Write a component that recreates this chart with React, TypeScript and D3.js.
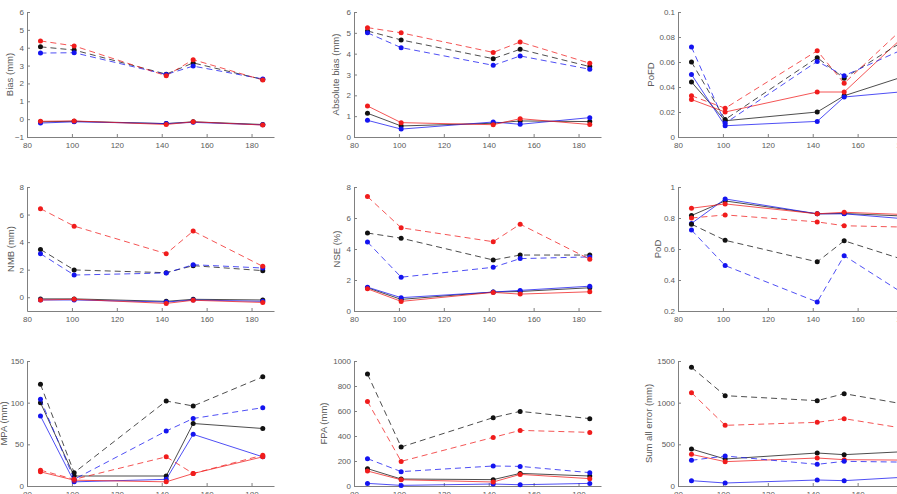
import React, { useEffect, useRef } from 'react';
import * as d3 from 'd3';

// shared x positions (all nine panels)
const xValues = [86, 101, 142, 154, 185];
const xTicks = [80, 100, 120, 140, 160, 180];
const xDomain = [80, 190];

// series order in every panel: solid black, solid blue, solid red, dashed black, dashed blue, dashed red
const bias = [
  [-0.15, -0.12, -0.25, -0.15, -0.3],
  [-0.22, -0.15, -0.25, -0.18, -0.32],
  [-0.12, -0.1, -0.3, -0.15, -0.33],
  [4.05, 3.87, 2.52, 3.15, 2.22],
  [3.7, 3.72, 2.5, 2.97, 2.25],
  [4.38, 4.1, 2.43, 3.33, 2.19],
];
const absBias = [
  [1.14, 0.53, 0.66, 0.77, 0.74],
  [0.8, 0.38, 0.72, 0.61, 0.93],
  [1.49, 0.69, 0.59, 0.88, 0.6],
  [5.09, 4.66, 3.76, 4.21, 3.38],
  [5.0, 4.29, 3.44, 3.89, 3.25],
  [5.25, 5.0, 4.06, 4.56, 3.54],
];
const pofd = [
  [0.044, 0.013, 0.02, 0.033, 0.051],
  [0.05, 0.009, 0.0125, 0.032, 0.037],
  [0.03, 0.02, 0.036, 0.036, 0.088],
  [0.06, 0.014, 0.0635, 0.047, 0.082],
  [0.072, 0.011, 0.0605, 0.049, 0.074],
  [0.033, 0.023, 0.069, 0.043, 0.095],
];
const nmb = [
  [-0.12, -0.12, -0.3, -0.15, -0.2],
  [-0.2, -0.2, -0.35, -0.2, -0.3],
  [-0.2, -0.15, -0.45, -0.22, -0.38],
  [3.47, 1.98, 1.78, 2.29, 1.93],
  [3.16, 1.61, 1.76, 2.36, 2.12],
  [6.43, 5.16, 3.16, 4.8, 2.24],
];
const nse = [
  [1.5, 0.75, 1.22, 1.26, 1.5],
  [1.54, 0.86, 1.22, 1.33, 1.6],
  [1.43, 0.62, 1.2, 1.09, 1.24],
  [5.03, 4.7, 3.29, 3.61, 3.61],
  [4.45, 2.18, 2.82, 3.38, 3.49],
  [7.38, 5.37, 4.47, 5.6, 3.34],
];
const pod = [
  [0.816, 0.91, 0.827, 0.829, 0.81],
  [0.765, 0.923, 0.827, 0.827, 0.79],
  [0.863, 0.891, 0.827, 0.837, 0.82],
  [0.76, 0.656, 0.517, 0.653, 0.51],
  [0.722, 0.493, 0.258, 0.557, 0.27],
  [0.8, 0.82, 0.775, 0.75, 0.74],
];
const mpa = [
  [100, 12, 12, 75, 69],
  [84, 5, 8, 62, 35],
  [17, 7, 5, 15, 35],
  [122, 16, 102, 96, 131],
  [104, 8, 66, 81, 94],
  [19, 8, 35, 15, 37],
];
const fpa = [
  [139, 56, 51, 101, 80],
  [21, 5, 16, 10, 21],
  [120, 50, 32, 93, 59],
  [896, 312, 547, 597, 539],
  [219, 115, 160, 157, 107],
  [677, 197, 389, 445, 429],
];
const sumErr = [
  [444, 324, 396, 376, 418],
  [64, 36, 72, 64, 112],
  [380, 292, 336, 316, 310],
  [1424, 1084, 1024, 1108, 962],
  [308, 360, 260, 296, 285],
  [1120, 728, 764, 808, 672],
];

const panelData = [bias, absBias, pofd, nmb, nse, pod, mpa, fpa, sumErr];
const yLabels = ['Bias (mm)', 'Absolute bias (mm)', 'PoFD', 'NMB (mm)', 'NSE (%)', 'PoD', 'MPA (mm)', 'FPA (mm)', 'Sum all error (mm)'];
const yDomains = [[-1, 6], [0, 6], [0, 0.1], [-1, 8], [0, 8], [0.2, 1], [0, 150], [0, 1000], [0, 1500]];
const yTicks = [
  [-1, 0, 1, 2, 3, 4, 5, 6],
  [0, 1, 2, 3, 4, 5, 6],
  [0, 0.02, 0.04, 0.06, 0.08, 0.1],
  [0, 2, 4, 6, 8],
  [0, 2, 4, 6, 8],
  [0.2, 0.4, 0.6, 0.8, 1],
  [0, 50, 100, 150],
  [0, 200, 400, 600, 800, 1000],
  [0, 500, 1000, 1500],
];

const seriesStyle = [
  { color: '#111111', dash: null },
  { color: '#1414f0', dash: null },
  { color: '#f01c1c', dash: null },
  { color: '#111111', dash: '6,4' },
  { color: '#1414f0', dash: '6,4' },
  { color: '#f01c1c', dash: '6,4' },
];

// grid layout
const colLeft = [27, 354, 678];
const plotWidth = 247;
const rowTop = [12, 187, 361];
const rowBottom = [137, 311, 486];
const labelOffset = [14, 15, 24, 13, 14.5, 17.5, 20, 27, 26];

const axisColor = '#808080';
const textColor = '#5a5a5a';
const font = '"Liberation Sans", Arial, sans-serif';

const App: React.FC = () => {
  const svgRef = useRef<SVGSVGElement>(null);

  useEffect(() => {
    if (!svgRef.current) return;
    const svg = d3.select(svgRef.current);
    svg.selectAll('*').remove();

    panelData.forEach((series, i) => {
      const col = i % 3;
      const row = Math.floor(i / 3);
      const left = colLeft[col];
      const top = rowTop[row];
      const bottom = rowBottom[row];

      const x = d3.scaleLinear().domain(xDomain).range([left, left + plotWidth]);
      const y = d3.scaleLinear().domain(yDomains[i]).range([bottom, top]);

      const g = svg.append('g');

      const xAxis = g.append('g')
        .attr('transform', `translate(0,${bottom})`)
        .call(d3.axisBottom(x).tickValues(xTicks).tickSizeInner(-3).tickSizeOuter(0).tickPadding(5).tickFormat(d3.format('d')));

      const yAxis = g.append('g')
        .attr('transform', `translate(${left},0)`)
        .call(d3.axisLeft(y).tickValues(yTicks[i]).tickSizeInner(-3).tickSizeOuter(0).tickPadding(3).tickFormat(d3.format('~g')));

      [xAxis, yAxis].forEach(ax => {
        ax.select('.domain').attr('stroke', axisColor);
        ax.selectAll('line').attr('stroke', axisColor);
        ax.selectAll('text')
          .attr('fill', textColor)
          .style('font-family', font)
          .style('font-size', '8px');
      });

      g.append('text')
        .attr('transform', `translate(${left - labelOffset[i]},${(top + bottom) / 2}) rotate(-90)`)
        .attr('text-anchor', 'middle')
        .attr('fill', textColor)
        .style('font-family', font)
        .style('font-size', '9.5px')
        .text(yLabels[i]);

      const line = d3.line<number>()
        .x((_, j) => x(xValues[j]))
        .y(d => y(d));

      series.forEach((vals, s) => {
        const st = seriesStyle[s];
        g.append('path')
          .datum(vals)
          .attr('d', line)
          .attr('fill', 'none')
          .attr('stroke', st.color)
          .attr('stroke-width', 1)
          .attr('stroke-opacity', 0.75)
          .attr('stroke-dasharray', st.dash ?? null);

        g.selectAll(null)
          .data(vals)
          .join('circle')
          .attr('cx', (_, j) => x(xValues[j]))
          .attr('cy', d => y(d))
          .attr('r', 2.5)
          .attr('fill', st.color);
      });
    });
  }, []);

  return (
    <div style={{ position: 'fixed', left: 0, top: 0, width: 897, height: 494, background: '#fff' }}>
      <svg ref={svgRef} width={897} height={494} style={{ display: 'block' }}></svg>
    </div>
  );
};

export default App;
